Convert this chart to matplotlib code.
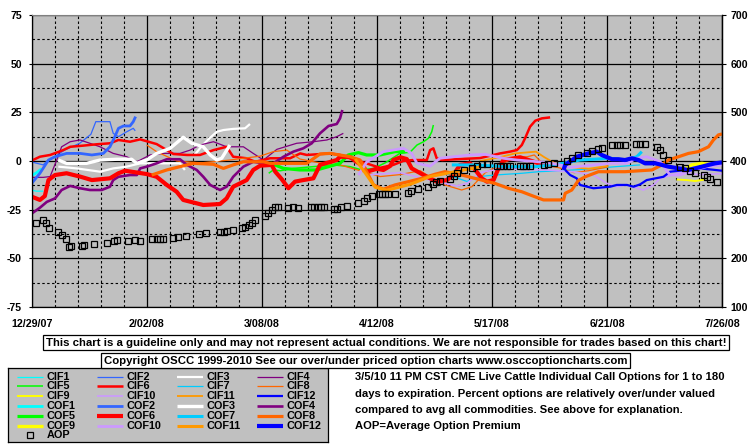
import numpy as np
import matplotlib.pyplot as plt
from matplotlib.ticker import MultipleLocator

plt.rcParams['font.family'] = ['Liberation Sans', 'DejaVu Sans']
plt.rcParams['font.weight'] = 'bold'
plt.rcParams['axes.unicode_minus'] = False

W, H = 755, 446
nan = np.nan

# x = days since 12/29/07, y = percent over/under valued
DATE_TICKS = [0, 35, 70, 105, 140, 175, 210]
DATE_LABELS = ['12/29/07', '2/02/08', '3/08/08', '4/12/08', '5/17/08', '6/21/08', '7/26/08']
PCT_TICKS = [-75, -50, -25, 0, 25, 50, 75]
AOP_TICKS = [100, 200, 300, 400, 500, 600, 700]

CIF1_DAY = [0, 1.5, 3.5]
CIF1_PCT = [-15, -15.5, -15.5]
COF1_DAY = [0, 1.5, 3]
COF1_PCT = [-7.5, -6, -4]

CIF2_DAY = [0, 3.5, 5, 7, 10, 14.6, 18, 19.5, 23.8, 24.8, 26.4, 28.9, 30.9, 31.5]
CIF2_PCT = [-0.5, -2, 0.5, 2.2, 5.6, 9.1, 13.7, 20.2, 20.2, 14.2, 12.5, 15, 16.8, 15.5]
COF2_DAY = [0, 2.5, 5.1, 7.1, 10.6, 14.7, 18.3, 21.8, 23.8, 25.3, 26.4, 27.9, 29.9, 30.9, 31.6]
COF2_PCT = [-11.5, -6.3, 0.5, 2.2, 3.9, 3.9, 3.1, 3.9, 7.3, 12.5, 16.8, 18, 18, 20.2, 22.8]

CIF3_DAY = [8.1, 13.7, 20.8, 24.8, 28.9, 33, 37, 41.1, 45.1, 46.6, nan,
            49.5, 52, 54.3, 56.3, 58.3, 61.3, 64.9, 66.4]
CIF3_PCT = [-2.9, -3.8, -5.5, -3.8, -2.9, -1.2, -1.2, -1.2, -1.2, -4.6, nan,
            3, 8.2, 12, 15, 15.9, 16.5, 16.8, 19]
COF3_DAY = [8.1, 10.6, 16.7, 20.8, 25.9, 30.4, 32, 35, 38, 42.1, 46.1, 48.7, 52.2, 54.3, 56.3, 57.8, 60.3]
COF3_PCT = [0.5, -1.2, -1.2, 0.5, 0.9, 0.9, -1.2, 0.5, 3.9, 6.5, 12.2, 9.1, 7.3, 3.1, 0.5, 1.4, 8.2]

CIF4_DAY = [0, 3.5, 5.6, 7.5, 9.1, 11.7, 14.7, 17.7, 20.8, 24.8, 28.9, 32, 36, 40.1, 45.1, 48.2,
            51.2, 55.3, 59.3, 64.4, 67.4, 70.5, 74.6, 80.6, 85.7, 89.8, 92.8, 94.8]
CIF4_PCT = [-8.4, -8.4, -8, 0, 7.3, 9.9, 10.8, 9.1, 7.3, 3.9, 2.2, -0.4, 3.1, 3.9, 3.9, 5.6,
            8.2, 9.9, 7.3, 7.3, 3.9, 0.5, 6, 9.1, 9.9, 10.8, 12.5, 14.2]
COF4_DAY = [0, 2.5, 4.6, 7.1, 9.1, 11.7, 14.7, 17.7, 21.3, 23.8, 24.8, 26.4, 29.9, 32, 33, 35, 38,
            41.1, 45.1, 47.2, 50.2, 52.2, 54.3, 57.3, 59.3, 61.3, 64.4, 67.4, 70.5, 73.5, 76.6,
            79.6, 82.6, 85.2, 87.7, 90.3, 92.8, 93.8, 94.5]
COF4_PCT = [-27, -24, -21, -19.2, -14.9, -12.8, -14, -14.9, -14.9, -13.2, -9.8, -8.1, -7.2, -7.2,
            -3.8, -2.9, -1.2, 0.9, 0.9, -2, -4.6, -8.1, -12.3, -14.9, -13.2, -8.1, -2.9, -0.4,
            -1.2, -1.2, 2.2, 4.8, 6.5, 9.1, 14.2, 18, 19, 21.9, 26.2]

CIF5_DAY = [72.1, 73.5, 75.6, 79.6, 85.7, 91.8, 96.9, 100.4, 104, 107.5, 112, 115.1, 117.2,
            119.2, 120.7, 121.7, 122.2]
CIF5_PCT = [-6.3, -4.6, -5, -3.8, -2.9, -2, -2.9, -4.6, -3.8, -1, 3.9, 4.5, 8.2, 9.9, 11.7, 15, 18.5]
COF5_DAY = [72.5, 76.6, 81.6, 86.7, 90.3, 93.8, 96.3, 99.4, 101.9, 106, 110.5, 113.6]
COF5_PCT = [-1, -3.8, -4.6, -4.6, -2.9, -1.2, 3.1, 4.3, 3.1, 3.1, 4.8, 4.8]

CIF6_DAY = [0, 2.5, 5.6, 9.6, 11.7, 15.7, 19.8, 23.8, 26.4, 29.9, 33, 38, 41.1, 43.1, 47.2, 51.2,
            55.3, 59.3, 61.3, 65.4, 68, 72.5, 78.6, 81.7, 83.7, 90.8, 93.8, 96.9, 101.4, 106, 110,
            113, 116.1, 120.2, 121.2, 122.2, 123.2, 124.8, 130.3, 136.4, 142.5, 145.5, 147.6,
            149.1, 150.1, 151.6, 153.2, 155.2, 157.7]
CIF6_PCT = [0.2, 2.2, 3.1, 5.6, 7.3, 7.9, 8.6, 9.1, 10.8, 9.9, 11.1, 8.7, 5.6, 3.6, 3.1, 3.1,
            5.6, 7.3, 2.2, 1.4, -0.4, 1.4, 1.4, 3.9, 3.1, 3.9, 3.1, 1.4, -1, -3.5, -2,
            0, 0.5, 0.5, 5.6, 6.5, 1.4, 0.5, 1, 1.5, 3.9, 4.8, 5.6,
            8.2, 11.7, 17.6, 20.7, 21.9, 22.4]
COF6_DAY = [0, 2.5, 4, 5.1, 7.1, 10.6, 14.7, 18.3, 23.8, 26.4, 28.4, 35, 38, 41.1, 44.1, 46.1,
            52.2, 57.3, 59.3, 61.3, 65.4, 67.4, 69.5, 73, 74.1, 76.1, 78.1, 80.1, 82.6, 85.7,
            87.7, 92.8, 93.8, 96.8, 100.9, 101.9, 105, 107, 109.1, 110, 112.2, 114.1, 115.6,
            119.2, 123.2, 126.3, 128.3, 130.3, 133.4, 136.9, 138.5, 140.5, 142, 143.5, 148.6,
            152.6, 155.7]
COF6_PCT = [-18.3, -20, -18, -9.8, -7.2, -6.3, -8, -9.8, -8.9, -6.3, -5, -6.7, -8.1, -12.3,
            -15.8, -20, -22.6, -22.1, -19.2, -13.2, -9.8, -4.6, -2.4, -2, -5.5, -9.4, -14,
            -10.6, -9.8, -8.9, -2, 0.5, 2.2, 2, -2.9, -5.5, -4, -4.6, -2.5, 0.5, 1.9, 1, -3.8,
            -7.2, -10.6, -9.8, -7.2, -2, -1.2, -8.9, -10.6, -9.8, -3.8, 0.5, 1.9, -0.3, -2]

CIF7_DAY = [125.7, 129, 132.4, 136, 140.9, 149.1, 154.2, 160.7, 168.9, 177, 185.1]
CIF7_PCT = [-6, -8.5, -10.5, -8, -7.2, -6.3, -5.5, -5, -4.2, -3, -2]
COF7_DAY = [127.8, 134.9, 144, 153.2, 160.7, 166.8, 176, 181, 184.1, 185.6]
COF7_PCT = [-2, -2, -2.9, -2.9, -1.5, 0.5, 1.4, 0.5, 2.2, 4.8]

CIF8_DAY = [35, 38, 44.1, 51.2, 60.3, 69.5, 73.5, 77.6, 81.6, 87.7, 93.8, 99.9, 106, 112, 118.2,
            122.7, 125.7, 130.8, 133.9, 138, 142.5, 147, 150.8, 152.9, 155.9, 160.5, 165, 169.4,
            175.4]
CIF8_PCT = [8.2, 4.8, 0, -1, 0.5, 2.5, 4.8, 5.6, 1, -1, -2, -5, -8, -7, -5, -9.8, -12.3, -14.9,
            -13.2, -6, -2, 2, 2.2, 3.1, -2, -3.5, -6, -5, -3]
COF8_DAY = [36.5, 41.1, 45.1, 49.2, 55.3, 58.3, 61.3, 64.4, 70.5, 72.5, 83.7, 87.7, 90.8, 96.9,
            99.9, 101.9, 104, 107, 110.5, 114.6, 118.7, 122.7, 125.7, 130.8, 136.9, 140.9, 145,
            149.1, 152.2, 155.7, 158.2, 161.8, 162.3, 164.3, 166.3, 168.4, 172.4, 180.5, 188.7,
            191.7, 193.7, 196.8, 199.8, 202.8, 205.9, 207.4, 208.9, 210]
COF8_PCT = [-7.2, -4.6, -2.9, -1.2, -1.7, -3.8, -2, -0.4, -0.4, -1.2, -1.2, 3.6, 3.9, 2.2, 0.5,
            -5.5, -12.3, -14.5, -12.3, -10.6, -8.9, -6.8, -5.5, -7.2, -9.8, -11.5, -14, -15.8,
            -17.8, -20, -20, -20, -16.6, -14.9, -10, -8.1, -5.5, -5.5, -4.6, -2, 0.5, 2.2, 3.9,
            4.8, 7.3, 10.8, 13.4, 13.9]

CIF9_DAY = [196.2, 199.3, 201.8, 204.9]
CIF9_PCT = [-9.5, -9.8, -10.3, -9.5]
COF9_DAY = [198.3, 200.8, 203.9, 206.9, 210]
COF9_PCT = [-4.6, -2, -1.2, -2, -1.2]

CIF10_DAY = [103, 112, 123.2, 129.3, 132.4, 136.4, 142.5, 156.2, 164.3, 170.9, 175, 178, 181,
             186.1, 189.2, 191.2, 197.2, 203.3, 210]
CIF10_PCT = [-7, -6, -10.6, -12.8, -11.5, -6, -4, -4.6, -5.5, -7.2, -11.5, -13.2, -12.3, -14.9,
             -12.3, -8.9, -6, -7, -6.5]
COF10_DAY = [99.4, 101.9, 107, 113.1, 115.6, 117.2, 121.2, 124.2, 128.3, 133.4, 138, 143.5, 147.6,
             154.2, 158.2, 160.7, 163.7, 170.9, 176, 181, 184.1, 187.1, 191.2, 194.2, 197.2,
             201.3, 205.4, 210]
COF10_PCT = [-7.2, -0.5, 4.8, 6.5, 3.9, -1.2, -2.6, 1.4, 2.2, 3.1, 3.4, 1.4, 0.5, -0.4, -1.2, -2,
             -3.3, -2, -1.2, -1.2, 1.4, 2.2, -0.4, -7.2, -7.2, -4.6, -2.9, -2]

CIF11_DAY = [136.4, 142.5, 147, 153.4, 155.9, 159, 163.5, 169.4, 175.4]
CIF11_PCT = [0, 2, 3.9, 4.8, 2, -1, -3, -4, -2.5]
COF11_DAY = [98.4, 101.4, 104.5, 108, 110.5, 115.1, 121.2, 130.3, 136.4]
COF11_PCT = [1, -6, -13.5, -15, -14, -12, -8, -5, -3]

CIF12_DAY = [162.3, 163.8, 165.8, 166.8, 170.9, 176, 178, 181.1, 183.1, 185.1, 187.1, 192.2,
             194.2, 199.3, 203.4, 207.4, 210]
CIF12_PCT = [-4.6, -7.2, -8.9, -12.3, -14, -13.2, -12.3, -12.3, -13.2, -12, -9.8, -8.1, -5.5,
             -4.6, -3.8, -4.5, -5]
COF12_DAY = [161.8, 162.3, 163.8, 165.8, 169.4, 171.9, 173.4, 176.5, 178.5, 180.5, 182.6, 184.6,
             186.6, 189.7, 191.7, 193.7, 196.8, 199.8, 203.9, 205.9, 207.9, 210]
COF12_PCT = [-4.6, -2, -0.3, 2.2, 3.9, 4.8, 3.1, 0.9, 0.9, 0.5, 1.4, 0.5, -1.2, -1.2, -2, -2.9,
             -3.8, -4.6, -2.9, -2, -1.2, -0.7]

# average option premium (right axis)
AOP_DAY = [1.2, 3.3, 4.4, 5.3, 8.1, 9.1, 10.4, 11.4, 12, 15.2, 16, 19, 23, 24.9, 25.9, 29.2, 31.5,
           33, 36.5, 38, 39, 40, 43, 44.5, 47, 51, 53, 57.3, 58.5, 59.5, 61.3, 64, 65, 66, 67, 68,
           71, 72, 73, 74, 75, 78, 79.5, 81, 85, 86, 87, 88, 89, 92, 93, 94, 96, 99.4, 101, 102,
           103.5, 105.7, 106.5, 107.5, 108.5, 110.5, 114.6, 115.5, 117.5, 120.7, 122, 123, 124.2,
           127.3, 128.5, 129.5, 131.6, 134, 135.5, 137, 138.4, 141.5, 142.5, 143.5, 144.5, 145.5,
           148.6, 149.5, 150.5, 151.7, 155.7, 157.2, 159, 162.8, 164.3, 166.3, 168.9, 170.4, 172.4,
           173.4, 176.5, 178, 179, 180.5, 183.7, 185, 186.7, 190.2, 191.2, 192.2, 193.5, 197.3,
           198.8, 200.3, 201.9, 204.4, 205.4, 206.4, 208.4]
AOP_VAL = [272, 279, 272, 263, 255, 248, 240, 224, 226, 225, 228, 229, 232, 236, 237, 236, 237,
           236, 239, 239, 239, 239, 241, 243, 245, 249, 252, 254, 254, 256, 258, 262, 265, 268, 272,
           279, 286, 293, 300, 305, 305, 303, 305, 303, 305, 305, 305, 305, 305, 301, 301, 305, 308,
           313, 318, 323, 328, 332, 332, 332, 332, 332, 335, 338, 342, 347, 353, 356, 359, 364, 370,
           376, 382, 385, 390, 393, 393, 390, 390, 390, 390, 390, 390, 390, 390, 390, 392, 393, 395,
           399, 407, 412, 417, 421, 425, 427, 433, 433, 433, 433, 434, 434, 434, 429, 423, 412, 402,
           388, 385, 380, 375, 371, 368, 364, 357]

NAMES = [str(i) for i in range(1, 13)]
COLORS = ['#00FFFF', '#3366FF', '#FFFFFF', '#800080', '#00FF00', '#FF0000',
          '#00CCFF', '#FF6600', '#FFFF00', '#CC99FF', '#FF9900', '#0000FF']
CIF_LW = [0.9, 0.9, 1.6, 0.9, 1.1, 1.8, 0.9, 0.9, 1.4, 1.2, 1.3, 1.6]
COF_LW = [2.0, 2.0, 2.4, 1.9, 2.3, 3.0, 2.2, 2.3, 2.4, 2.0, 2.2, 3.0]

cif_data = [(CIF1_DAY, CIF1_PCT), (CIF2_DAY, CIF2_PCT), (CIF3_DAY, CIF3_PCT), (CIF4_DAY, CIF4_PCT),
            (CIF5_DAY, CIF5_PCT), (CIF6_DAY, CIF6_PCT), (CIF7_DAY, CIF7_PCT), (CIF8_DAY, CIF8_PCT),
            (CIF9_DAY, CIF9_PCT), (CIF10_DAY, CIF10_PCT), (CIF11_DAY, CIF11_PCT), (CIF12_DAY, CIF12_PCT)]
cof_data = [(COF1_DAY, COF1_PCT), (COF2_DAY, COF2_PCT), (COF3_DAY, COF3_PCT), (COF4_DAY, COF4_PCT),
            (COF5_DAY, COF5_PCT), (COF6_DAY, COF6_PCT), (COF7_DAY, COF7_PCT), (COF8_DAY, COF8_PCT),
            (COF9_DAY, COF9_PCT), (COF10_DAY, COF10_PCT), (COF11_DAY, COF11_PCT), (COF12_DAY, COF12_PCT)]


def fx(px):
    return px / W


def fy(py):
    return 1 - py / H


fig = plt.figure(figsize=(W / 100, H / 100), dpi=100)
fig.patch.set_facecolor('white')

ax = fig.add_axes([fx(31.7), fy(307), (722 - 31.7) / W, (307 - 15) / H])
ax.set_facecolor('#C0C0C0')
ax.set_xlim(0, 210)
ax.set_ylim(-75, 75)
ax.set_xticks(DATE_TICKS)
ax.set_xticklabels(DATE_LABELS)
ax.xaxis.set_minor_locator(MultipleLocator(7))
ax.set_yticks(PCT_TICKS)
ax.yaxis.set_minor_locator(MultipleLocator(12.5))
ax.set_axisbelow(True)
ax.grid(which='major', color='black', lw=0.9, ls='-')
ax.grid(which='minor', color='black', lw=0.8, ls=(0, (2.2, 2.2)))
ax.tick_params(axis='x', which='both', length=0, pad=8.5, labelsize=7.7)
ax.tick_params(axis='y', which='major', length=2.5, pad=4.5, labelsize=7.6)
ax.tick_params(axis='y', which='minor', length=0)
for s in ['left', 'bottom', 'right']:
    ax.spines[s].set_color('black')
    ax.spines[s].set_linewidth(0.9)
ax.spines['top'].set_color('#808080')

for i in range(12):
    d, p = cif_data[i]
    ax.plot(d, p, color=COLORS[i], lw=CIF_LW[i], solid_capstyle='butt')
for i in range(12):
    d, p = cof_data[i]
    ax.plot(d, p, color=COLORS[i], lw=COF_LW[i], solid_capstyle='butt')

ax2 = ax.twinx()
ax2.set_ylim(100, 700)
ax2.set_yticks(AOP_TICKS)
ax2.tick_params(axis='y', length=3, pad=3, labelsize=7.6)
for s in ['left', 'top', 'bottom']:
    ax2.spines[s].set_visible(False)
ax2.spines['right'].set_linewidth(0.9)
ax2.plot(AOP_DAY, AOP_VAL, 's', ms=5, mfc='none', mec='black', mew=0.9)

# disclaimer boxes
fig.text(fx(386), fy(342.5),
         'This chart is a guideline only and may not represent actual conditions. '
         'We are not responsible for trades based on this chart!',
         ha='center', va='center', fontsize=8.2,
         bbox=dict(boxstyle='square,pad=0.22', fc='white', ec='black', lw=0.9))
fig.text(fx(365.5), fy(360.5),
         'Copyright OSCC 1999-2010 See our over/under priced option charts www.osccoptioncharts.com',
         ha='center', va='center', fontsize=8.2,
         bbox=dict(boxstyle='square,pad=0.22', fc='white', ec='black', lw=0.9))

info_lines = ['3/5/10 11 PM CST CME Live Cattle Individual Call Options for 1 to 180',
              'days to expiration. Percent options are relatively over/under valued',
              'compared to avg all commodities. See above for explanation.',
              'AOP=Average Option Premium']
for i, line in enumerate(info_lines):
    fig.text(fx(355), fy(377.5 + i * 16.3), line, ha='left', va='center', fontsize=8.1)

# legend box, row-major like the original
lax = fig.add_axes([fx(8.3), fy(441.7), 319.4 / W, 73.4 / H])
lax.set_facecolor('#C0C0C0')
lax.set_xlim(0, 319.4)
lax.set_ylim(73.4, 0)
lax.set_xticks([])
lax.set_yticks([])
for s in lax.spines.values():
    s.set_color('black')
    s.set_linewidth(0.9)

entries = [('CIF' + n, COLORS[i], CIF_LW[i]) for i, n in enumerate(NAMES)]
entries += [('COF' + n, COLORS[i], COF_LW[i]) for i, n in enumerate(NAMES)]
for k, (label, col, lw) in enumerate(entries):
    r, c = divmod(k, 4)
    y = 8.4 + r * 9.77
    x = 8.4 + c * 80
    lax.plot([x, x + 26.7], [y, y], color=col, lw=lw, solid_capstyle='butt')
    lax.text(x + 29.5, y, label, va='center', ha='left', fontsize=7.8)
y_aop = 8.4 + 6 * 9.77
lax.plot([21.7], [y_aop], 's', ms=4.5, mfc='none', mec='black', mew=0.9)
lax.text(38.4, y_aop, 'AOP', va='center', ha='left', fontsize=7.8)

fig.savefig('out.png', dpi=100)
